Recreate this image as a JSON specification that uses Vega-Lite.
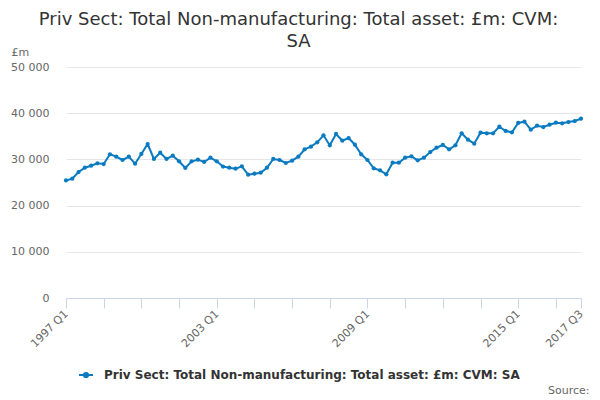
{
  "$schema": "https://vega.github.io/schema/vega-lite/v6.json",
  "autosize": "none",
  "width": 515,
  "height": 231,
  "padding": {"left": 66, "top": 67, "right": 19, "bottom": 102},
  "background": "white",
  "config": {
    "font": "DejaVu Sans",
    "view": {"stroke": null}
  },
  "title": {
    "text": ["Priv Sect: Total Non-manufacturing: Total asset: £m: CVM:", "SA"],
    "fontSize": 18,
    "fontWeight": "normal",
    "color": "#333333",
    "lineHeight": 22,
    "anchor": "middle",
    "frame": "group",
    "offset": -5,
    "dx": -25
  },
  "data": {
    "values": [
      {"quarter": "1997 Q1", "value": 25450},
      {"quarter": "1997 Q2", "value": 25820},
      {"quarter": "1997 Q3", "value": 27270},
      {"quarter": "1997 Q4", "value": 28200},
      {"quarter": "1998 Q1", "value": 28640},
      {"quarter": "1998 Q2", "value": 29150},
      {"quarter": "1998 Q3", "value": 29000},
      {"quarter": "1998 Q4", "value": 31100},
      {"quarter": "1999 Q1", "value": 30590},
      {"quarter": "1999 Q2", "value": 29870},
      {"quarter": "1999 Q3", "value": 30590},
      {"quarter": "1999 Q4", "value": 29070},
      {"quarter": "2000 Q1", "value": 31170},
      {"quarter": "2000 Q2", "value": 33330},
      {"quarter": "2000 Q3", "value": 30090},
      {"quarter": "2000 Q4", "value": 31450},
      {"quarter": "2001 Q1", "value": 30090},
      {"quarter": "2001 Q2", "value": 30800},
      {"quarter": "2001 Q3", "value": 29590},
      {"quarter": "2001 Q4", "value": 28140},
      {"quarter": "2002 Q1", "value": 29590},
      {"quarter": "2002 Q2", "value": 29940},
      {"quarter": "2002 Q3", "value": 29440},
      {"quarter": "2002 Q4", "value": 30370},
      {"quarter": "2003 Q1", "value": 29590},
      {"quarter": "2003 Q2", "value": 28450},
      {"quarter": "2003 Q3", "value": 28200},
      {"quarter": "2003 Q4", "value": 27990},
      {"quarter": "2004 Q1", "value": 28500},
      {"quarter": "2004 Q2", "value": 26690},
      {"quarter": "2004 Q3", "value": 26900},
      {"quarter": "2004 Q4", "value": 27120},
      {"quarter": "2005 Q1", "value": 28200},
      {"quarter": "2005 Q2", "value": 30090},
      {"quarter": "2005 Q3", "value": 29870},
      {"quarter": "2005 Q4", "value": 29220},
      {"quarter": "2006 Q1", "value": 29720},
      {"quarter": "2006 Q2", "value": 30590},
      {"quarter": "2006 Q3", "value": 32180},
      {"quarter": "2006 Q4", "value": 32750},
      {"quarter": "2007 Q1", "value": 33690},
      {"quarter": "2007 Q2", "value": 35210},
      {"quarter": "2007 Q3", "value": 33050},
      {"quarter": "2007 Q4", "value": 35500},
      {"quarter": "2008 Q1", "value": 34050},
      {"quarter": "2008 Q2", "value": 34630},
      {"quarter": "2008 Q3", "value": 33180},
      {"quarter": "2008 Q4", "value": 31100},
      {"quarter": "2009 Q1", "value": 29870},
      {"quarter": "2009 Q2", "value": 28070},
      {"quarter": "2009 Q3", "value": 27640},
      {"quarter": "2009 Q4", "value": 26770},
      {"quarter": "2010 Q1", "value": 29290},
      {"quarter": "2010 Q2", "value": 29290},
      {"quarter": "2010 Q3", "value": 30370},
      {"quarter": "2010 Q4", "value": 30670},
      {"quarter": "2011 Q1", "value": 29800},
      {"quarter": "2011 Q2", "value": 30370},
      {"quarter": "2011 Q3", "value": 31600},
      {"quarter": "2011 Q4", "value": 32530},
      {"quarter": "2012 Q1", "value": 33120},
      {"quarter": "2012 Q2", "value": 32180},
      {"quarter": "2012 Q3", "value": 33050},
      {"quarter": "2012 Q4", "value": 35650},
      {"quarter": "2013 Q1", "value": 34270},
      {"quarter": "2013 Q2", "value": 33400},
      {"quarter": "2013 Q3", "value": 35790},
      {"quarter": "2013 Q4", "value": 35650},
      {"quarter": "2014 Q1", "value": 35650},
      {"quarter": "2014 Q2", "value": 37080},
      {"quarter": "2014 Q3", "value": 36150},
      {"quarter": "2014 Q4", "value": 35870},
      {"quarter": "2015 Q1", "value": 37880},
      {"quarter": "2015 Q2", "value": 38160},
      {"quarter": "2015 Q3", "value": 36430},
      {"quarter": "2015 Q4", "value": 37290},
      {"quarter": "2016 Q1", "value": 37010},
      {"quarter": "2016 Q2", "value": 37510},
      {"quarter": "2016 Q3", "value": 37940},
      {"quarter": "2016 Q4", "value": 37810},
      {"quarter": "2017 Q1", "value": 38090},
      {"quarter": "2017 Q2", "value": 38310},
      {"quarter": "2017 Q3", "value": 38810}
    ]
  },
  "mark": {
    "type": "line",
    "strokeWidth": 2,
    "point": {"filled": true, "size": 18}
  },
  "encoding": {
    "x": {
      "field": "quarter",
      "type": "ordinal",
      "sort": null,
      "scale": {"type": "point", "padding": 0},
      "axis": {
        "values": ["1997 Q1", "1998 Q3", "2000 Q1", "2001 Q3", "2003 Q1", "2004 Q3", "2006 Q1", "2007 Q3", "2009 Q1", "2010 Q3", "2012 Q1", "2013 Q3", "2015 Q1", "2016 Q3", "2017 Q3"],
        "labelExpr": "indexof(['1997 Q1','2003 Q1','2009 Q1','2015 Q1','2017 Q3'], datum.label) >= 0 ? datum.label : ''",
        "labelAngle": -45,
        "labelAlign": "right",
        "labelBaseline": "middle",
        "labelFontSize": 11,
        "labelColor": "#666666",
        "labelPadding": 4,
        "domainColor": "#ccd6eb",
        "tickColor": "#ccd6eb",
        "tickSize": 10,
        "grid": false,
        "title": "Source:",
        "titleFontSize": 11,
        "titleFontWeight": "normal",
        "titleColor": "#666666",
        "titleAlign": "right",
        "titleBaseline": "middle",
        "titleX": 523,
        "titleY": 92
      }
    },
    "y": {
      "field": "value",
      "type": "quantitative",
      "scale": {"domain": [0, 50000], "nice": false},
      "axis": {
        "values": [0, 10000, 20000, 30000, 40000, 50000],
        "labelExpr": "replace(format(datum.value, ','), ',', ' ')",
        "labelFontSize": 11,
        "labelColor": "#666666",
        "labelPadding": 17,
        "domain": false,
        "ticks": false,
        "gridColor": "#e6e6e6",
        "title": "£m",
        "titleAngle": 0,
        "titleFontSize": 11,
        "titleFontWeight": "normal",
        "titleColor": "#666666",
        "titleAlign": "left",
        "titleBaseline": "middle",
        "titleX": -55,
        "titleY": -15
      }
    },
    "color": {
      "datum": "Priv Sect: Total Non-manufacturing: Total asset: £m: CVM: SA",
      "type": "nominal",
      "scale": {"range": ["#0b7bc1"]},
      "legend": {
        "orient": "none",
        "legendX": 12,
        "legendY": 300,
        "title": null,
        "padding": 0,
        "labelFontSize": 12,
        "labelFontWeight": "bold",
        "labelColor": "#333333",
        "labelOffset": 10,
        "labelLimit": 0,
        "symbolType": "M-1,0L1,0M-0.3,0A0.3,0.3,0,1,1,0.3,0A0.3,0.3,0,1,1,-0.3,0",
        "symbolSize": 196,
        "symbolStrokeWidth": 2,
        "symbolFillColor": "#0b7bc1",
        "symbolStrokeColor": "#0b7bc1"
      }
    }
  }
}
